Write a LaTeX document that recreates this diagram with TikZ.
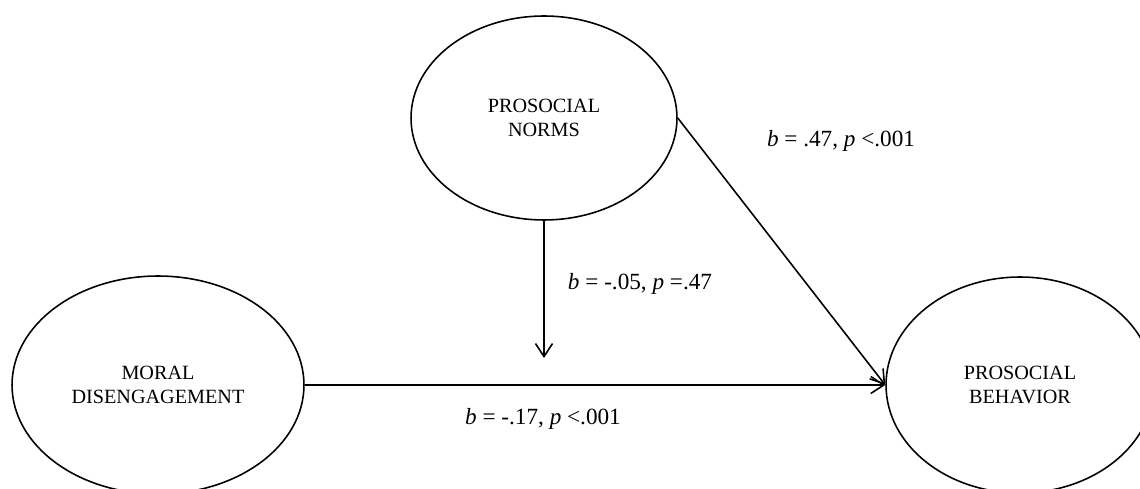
\documentclass[tikz,border=0pt]{standalone}
\usepackage{fontspec}
\setmainfont{Liberation Serif}
\usetikzlibrary{arrows.meta,positioning,shapes.geometric}
\tikzset{
  latent/.style={ellipse, draw, line width=0.9pt, inner sep=0pt, align=center, font=\fontsize{11.5}{13.6}\selectfont},
  eff/.style={-{Straight Barb[length=2.6mm,width=3.4mm]}, line width=0.9pt},
  coef/.style={inner sep=0pt, font=\fontsize{13.2}{15}\selectfont}
}

\begin{document}
\begin{tikzpicture}[x=0.02cm,y=-0.02cm]
  \useasboundingbox (0,0) rectangle (1140,489);
  \node[latent, minimum width=58.4mm, minimum height=43.6mm] (md) at (158,385) {MORAL\\DISENGAGEMENT};
  \node[latent, minimum width=53.2mm, minimum height=40.8mm] (pn) at (544,118) {PROSOCIAL\\NORMS};
  \node[latent, minimum width=53.6mm, minimum height=43.2mm] (pb) at (1020,385) {PROSOCIAL\\BEHAVIOR};
  \coordinate (mod) at (544,358);
  \node[coef] (bn) at (841,141) {\textit{b} = .47, \textit{p} <.001};
  \node[coef] (bi) at (640,284) {\textit{b} = -.05, \textit{p} =.47};
  \node[coef] (bm) at (543,419) {\textit{b} = -.17, \textit{p} <.001};
  \draw[eff] (md) -- (pb);
  \draw[eff] (pn.east) -- (pb.west);
  \draw[eff] (pn) -- (mod);
\end{tikzpicture}
\end{document}
